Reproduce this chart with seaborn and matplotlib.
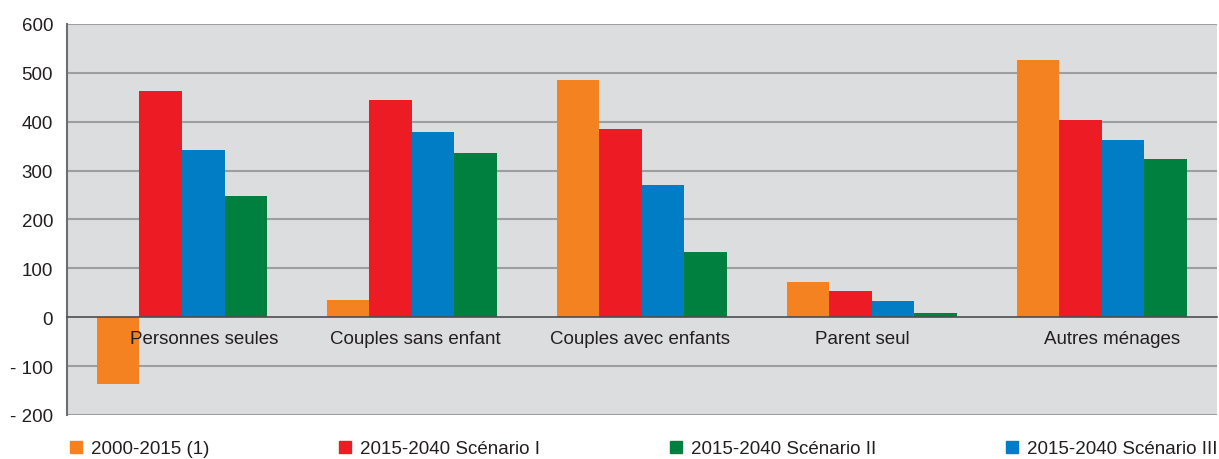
import pandas as pd
import seaborn as sns
import matplotlib.pyplot as plt
from matplotlib.transforms import ScaledTranslation

# -------------------- Data --------------------
categories = ["Personnes seules", "Couples sans enfant", "Couples avec enfants",
              "Parent seul", "Autres ménages"]
series = ["2000-2015 (1)", "2015-2040 Scénario I", "2015-2040 Scénario III",
          "2015-2040 Scénario II"]
v_2000_2015 = [-137, 35, 485, 72, 527]
v_scen_1 = [462, 445, 386, 54, 403]
v_scen_3 = [342, 378, 270, 33, 362]
v_scen_2 = [249, 337, 133, 8, 323]
legend_order = ["2000-2015 (1)", "2015-2040 Scénario I", "2015-2040 Scénario II",
                "2015-2040 Scénario III"]
yticks = [-200, -100, 0, 100, 200, 300, 400, 500, 600]
ytick_labels = ["- 200", "- 100", "0", "100", "200", "300", "400", "500", "600"]
# décalage horizontal (px) des libellés de catégorie, comme dans l'original
label_shift_px = [22, 3, -2, -9, 10]

colors = {
    "2000-2015 (1)": "#F58220",
    "2015-2040 Scénario I": "#ED1C24",
    "2015-2040 Scénario III": "#007DC5",
    "2015-2040 Scénario II": "#00803F",
}

rows = []
for s, vals in zip(series, [v_2000_2015, v_scen_1, v_scen_3, v_scen_2]):
    for c, v in zip(categories, vals):
        rows.append({"categorie": c, "serie": s, "valeur": v})
df = pd.DataFrame(rows)

# -------------------- Plot --------------------
sns.set_style("white")
plt.rcParams["font.family"] = ["Liberation Sans", "DejaVu Sans"]
FS = 13.5
TXT = "#231F20"

fig = plt.figure(figsize=(12.19, 4.6), dpi=100)
ax = fig.add_axes([0.055, 0.0957, 0.943, 0.85])
ax.set_facecolor("#DCDDDF")

sns.barplot(data=df, x="categorie", y="valeur", hue="serie",
            order=categories, hue_order=series, palette=colors,
            width=0.74, gap=0, saturation=1, linewidth=0, ax=ax)

ax.set_ylim(-200, 600)
ax.set_xlim(-0.5, len(categories) - 0.5)
ax.set_yticks(yticks)
ax.set_yticklabels(ytick_labels, fontsize=FS, color=TXT)
# grille dessinée sous les barres, axes (libellés) au-dessus
for y in yticks:
    if y != 0:
        ax.axhline(y, color="#9D9EA0", linewidth=1.5, zorder=0.5)
ax.set_axisbelow(False)
ax.tick_params(axis="y", length=0, pad=10)

# axe des catégories sur la ligne zéro
ax.spines["bottom"].set_position(("data", 0))
ax.spines["bottom"].set_color("#4D4D4F")
ax.spines["bottom"].set_linewidth(1.2)
ax.spines["left"].set_color("#6D6E70")
ax.spines["left"].set_linewidth(1.5)
ax.spines["top"].set_visible(False)
ax.spines["right"].set_visible(False)
ax.set_xticks(range(len(categories)))
ax.set_xticklabels(categories, fontsize=FS, color=TXT)
ax.set_xticks([i - 0.5 for i in range(len(categories) + 1)], minor=True)
ax.tick_params(axis="x", which="major", length=0, pad=9)
ax.tick_params(axis="x", which="minor", length=6, width=1.2, color="#6D6E70")
for lab, dx in zip(ax.get_xticklabels(), label_shift_px):
    lab.set_transform(lab.get_transform() +
                      ScaledTranslation(dx / 100, 0, fig.dpi_scale_trans))
ax.set_xlabel("")
ax.set_ylabel("")

# légende en bas, ordre du document
ax.get_legend().remove()
h = [plt.Line2D([], [], marker="s", linestyle="", markersize=8.5,
                color=colors[l]) for l in legend_order]
fig.legend(h, legend_order, loc="lower left", bbox_to_anchor=(0.043, -0.033),
           ncol=4, frameon=False, fontsize=FS, handletextpad=0.45,
           columnspacing=6.9, handlelength=0.7, labelcolor=TXT)

fig.savefig("out.png", dpi=100)
